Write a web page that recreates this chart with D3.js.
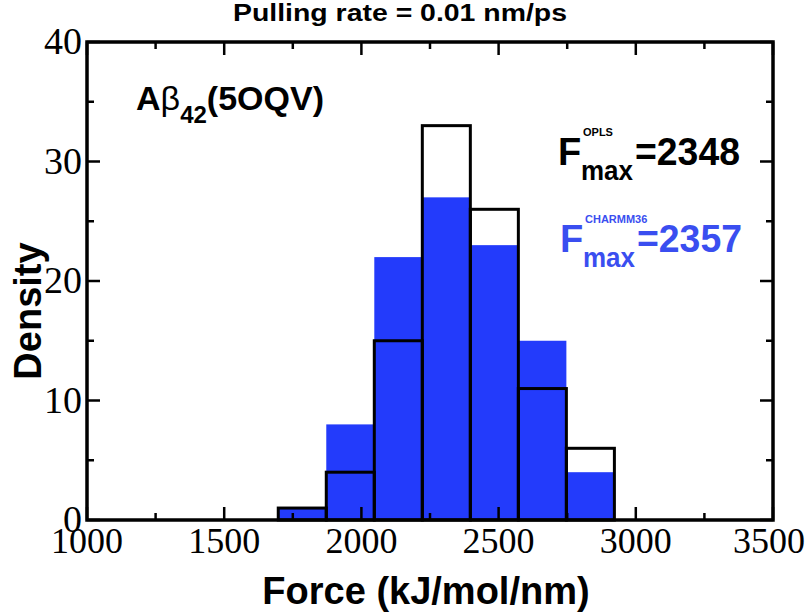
<!DOCTYPE html>
<html>
<head>
<meta charset="utf-8">
<script src="https://cdn.jsdelivr.net/npm/d3@7"></script>
<style>
html,body{margin:0;padding:0;background:#fff;}
svg{display:block;}
</style>
</head>
<body>
<svg id="chart" width="810" height="615"></svg>
<script>
// ---- data ----
const binEdges = [1697, 1872, 2047, 2222, 2397, 2572, 2747, 2922];
const oplsDensity = [1, 4, 15, 33, 26, 11, 6];
const charmmDensity = [1, 8, 22, 27, 23, 15, 4];
const xTickValues = [1000, 1500, 2000, 2500, 3000, 3500];
const xMinorValues = [1250, 1750, 2250, 2750, 3250];
const yTickValues = [0, 10, 20, 30, 40];
const yMinorValues = [5, 15, 25, 35];
const titleText = "Pulling rate = 0.01 nm/ps";
const xLabel = "Force (kJ/mol/nm)";
const yLabel = "Density";
const oplsValue = "=2348";
const charmmValue = "=2357";

// ---- layout ----
const L = 87, R = 773, T = 42, B = 520;
const svg = d3.select("#chart");
const x = d3.scaleLinear().domain([1000, 3500]).range([L, R]);
const y = d3.scaleLinear().domain([0, 40]).range([B, T]);
const blue = "#233bfb";
const textBlue = "#3a4ef0";
const sans = "'Liberation Sans', Arial, Helvetica, sans-serif";
const serif = "'Liberation Serif', 'Times New Roman', serif";

const bins = oplsDensity.map((d, i) => ({x0: binEdges[i], x1: binEdges[i + 1], opls: d, charmm: charmmDensity[i]}));

// blue filled histogram (CHARMM36)
svg.append("g").selectAll("rect").data(bins).join("rect")
  .attr("x", d => x(d.x0)).attr("width", d => x(d.x1) - x(d.x0))
  .attr("y", d => y(d.charmm)).attr("height", d => y(0) - y(d.charmm))
  .attr("fill", blue);

// black outline histogram (OPLS)
svg.append("g").selectAll("rect").data(bins).join("rect")
  .attr("x", d => x(d.x0)).attr("width", d => x(d.x1) - x(d.x0))
  .attr("y", d => y(d.opls)).attr("height", d => y(0) - y(d.opls))
  .attr("fill", "none").attr("stroke", "#000").attr("stroke-width", 3);

// ticks (inward on all four sides)
const tk = svg.append("g").attr("stroke", "#000").attr("stroke-width", 2.5);
const major = 13, minor = 7;
xTickValues.concat(xMinorValues).forEach(v => {
  const len = xTickValues.includes(v) ? major : minor;
  tk.append("line").attr("x1", x(v)).attr("x2", x(v)).attr("y1", B).attr("y2", B - len);
  tk.append("line").attr("x1", x(v)).attr("x2", x(v)).attr("y1", T).attr("y2", T + len);
});
yTickValues.concat(yMinorValues).forEach(v => {
  const len = yTickValues.includes(v) ? major : minor;
  tk.append("line").attr("y1", y(v)).attr("y2", y(v)).attr("x1", L).attr("x2", L + len);
  tk.append("line").attr("y1", y(v)).attr("y2", y(v)).attr("x1", R).attr("x2", R - len);
});

// frame
svg.append("rect").attr("x", L).attr("y", T).attr("width", R - L).attr("height", B - T)
  .attr("fill", "none").attr("stroke", "#000").attr("stroke-width", 3.5);

// tick labels (serif)
svg.append("g").selectAll("text").data(xTickValues).join("text")
  .attr("x", d => Math.min(x(d), 769)).attr("y", 553).attr("text-anchor", "middle")
  .attr("font-family", serif).attr("font-size", 36).text(d => d);
svg.append("g").selectAll("text").data(yTickValues).join("text")
  .attr("x", 82).attr("y", d => y(d) + 12).attr("text-anchor", "end")
  .attr("font-family", serif).attr("font-size", 38).text(d => d);

// title
svg.append("text").attr("x", 400).attr("y", 21).attr("text-anchor", "middle")
  .attr("font-family", sans).attr("font-weight", "bold").attr("font-size", 23)
  .attr("textLength", 334).attr("lengthAdjust", "spacingAndGlyphs").text(titleText);

// axis labels
svg.append("text").attr("x", 426).attr("y", 604).attr("text-anchor", "middle")
  .attr("font-family", sans).attr("font-weight", "bold").attr("font-size", 38).text(xLabel);
svg.append("text").attr("transform", "translate(41,311) rotate(-90)").attr("text-anchor", "middle")
  .attr("font-family", sans).attr("font-weight", "bold").attr("font-size", 38).text(yLabel);

// A beta 42 label
const ab = svg.append("text").attr("x", 136).attr("y", 110)
  .attr("font-family", sans).attr("font-weight", "bold").attr("font-size", 34);
ab.append("tspan").text("A");
ab.append("tspan").attr("font-weight", "normal").text("β");
ab.append("tspan").attr("font-size", 24).attr("dy", 13).text("42");
ab.append("tspan").attr("dy", -13).text("(5OQV)");

// Fmax annotations
function fmax(x0, base, sup, val, color) {
  const g = svg.append("g").attr("fill", color).attr("font-family", sans).attr("font-weight", "bold");
  g.append("text").attr("x", x0).attr("y", base).attr("font-size", 38).text("F");
  g.append("text").attr("x", x0 + 23).attr("y", base + 15).attr("font-size", 27)
    .attr("textLength", 52).attr("lengthAdjust", "spacingAndGlyphs").text("max");
  g.append("text").attr("x", x0 + 25).attr("y", base - 29).attr("font-size", 11).text(sup);
  g.append("text").attr("x", x0 + 77).attr("y", base).attr("font-size", 38)
    .attr("textLength", 105).attr("lengthAdjust", "spacingAndGlyphs").text(val);
}
fmax(558, 165, "OPLS", oplsValue, "#000");
fmax(560, 252, "CHARMM36", charmmValue, textBlue);
</script>
</body>
</html>
